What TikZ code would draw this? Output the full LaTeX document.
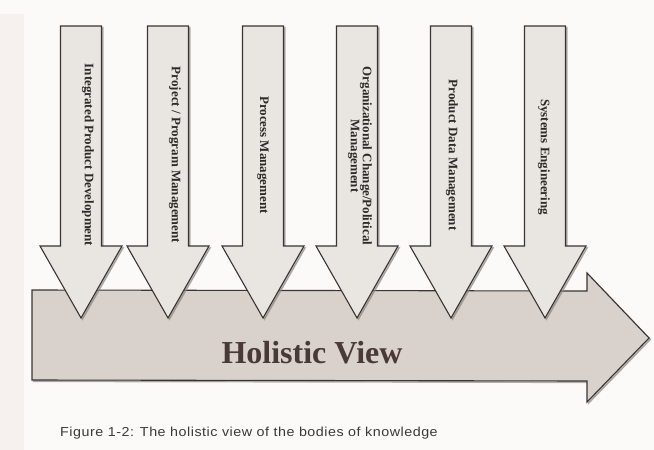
\documentclass[tikz,border=0pt]{standalone}
\usepackage{fontspec}
\setmainfont{Liberation Serif}
\newfontfamily\capfont[FakeStretch=1.1,LetterSpace=4]{Liberation Sans}
\definecolor{pagebg}{HTML}{FBFAF8}
\definecolor{edgebg}{HTML}{F6F1EE}
\definecolor{downfill}{HTML}{E9E5E1}
\definecolor{bigfill}{HTML}{D8D1CC}
\definecolor{strokec}{HTML}{3A3533}
\definecolor{shadowc}{HTML}{8A8480}
\definecolor{labelc}{HTML}{2D2927}
\definecolor{holic}{HTML}{4A3A35}
\definecolor{capc}{HTML}{3A3A3A}
\tikzset{
  arrowbody/.style={draw=strokec, line width=1.1pt, line join=miter},
  arrowshadow/.style={draw=shadowc, line width=1.2pt, fill=shadowc, opacity=0.55},
  vlabel/.style={rotate=-90, font=\bfseries\fontsize{13}{12}\selectfont, text=labelc, align=center, inner sep=0pt},
}
\begin{document}
\begin{tikzpicture}[x=1pt,y=-1pt]
\useasboundingbox (0,0) rectangle (654,450);
\fill[pagebg] (0,0) rectangle (654,450);
\fill[edgebg] (0,14) rectangle (24,450);
% big arrow
\path[arrowshadow] (33.5,291.5) -- (588.5,292.5) -- (588.5,274.5) -- (650.5,339.5) -- (588.5,403.5) -- (588.5,382.5) -- (33.5,381.5) -- cycle;
\path[arrowbody, fill=bigfill] (32,290) -- (587,291) -- (587,273) -- (649,338) -- (587,402) -- (587,381) -- (32,380) -- cycle;
\node[font=\bfseries\fontsize{32}{32}\selectfont, text=holic, inner sep=0pt, anchor=base] (holistic) at (312,363) {Holistic View};
% down arrows
\foreach \c/\nm in {81/a,168/b,263/c,357/d,451/e,545/f}{
  \path[arrowshadow] (\c-19,27.5) -- (\c+22,27.5) -- (\c+22,247.5) -- (\c+42.5,247.5) -- (\c+1.5,319.5) -- (\c-39.5,247.5) -- (\c-19,247.5) -- cycle;
  \path[arrowbody, fill=downfill] (\c-20.5,26) -- (\c+20.5,26) -- (\c+20.5,246) -- (\c+41,246) -- (\c,318) -- (\c-41,246) -- (\c-20.5,246) -- cycle;
}
\node[vlabel] (la) at (88,155) {Integrated Product Development};
\node[vlabel] (lb) at (175,155) {Project / Program Management};
\node[vlabel] (lc) at (263,155) {Process Management};
\node[vlabel] (ld) at (360,156) {Organizational Change/Political\\Management};
\node[vlabel] (le) at (452,155) {Product Data Management};
\node[vlabel] (lf) at (544,157) {Systems Engineering};
% caption
\node[font=\capfont\fontsize{13}{14}\selectfont, text=capc, anchor=base west, inner sep=0pt] (caption) at (60,436) {Figure 1-2: The holistic view of the bodies of knowledge};
\end{tikzpicture}
\end{document}
